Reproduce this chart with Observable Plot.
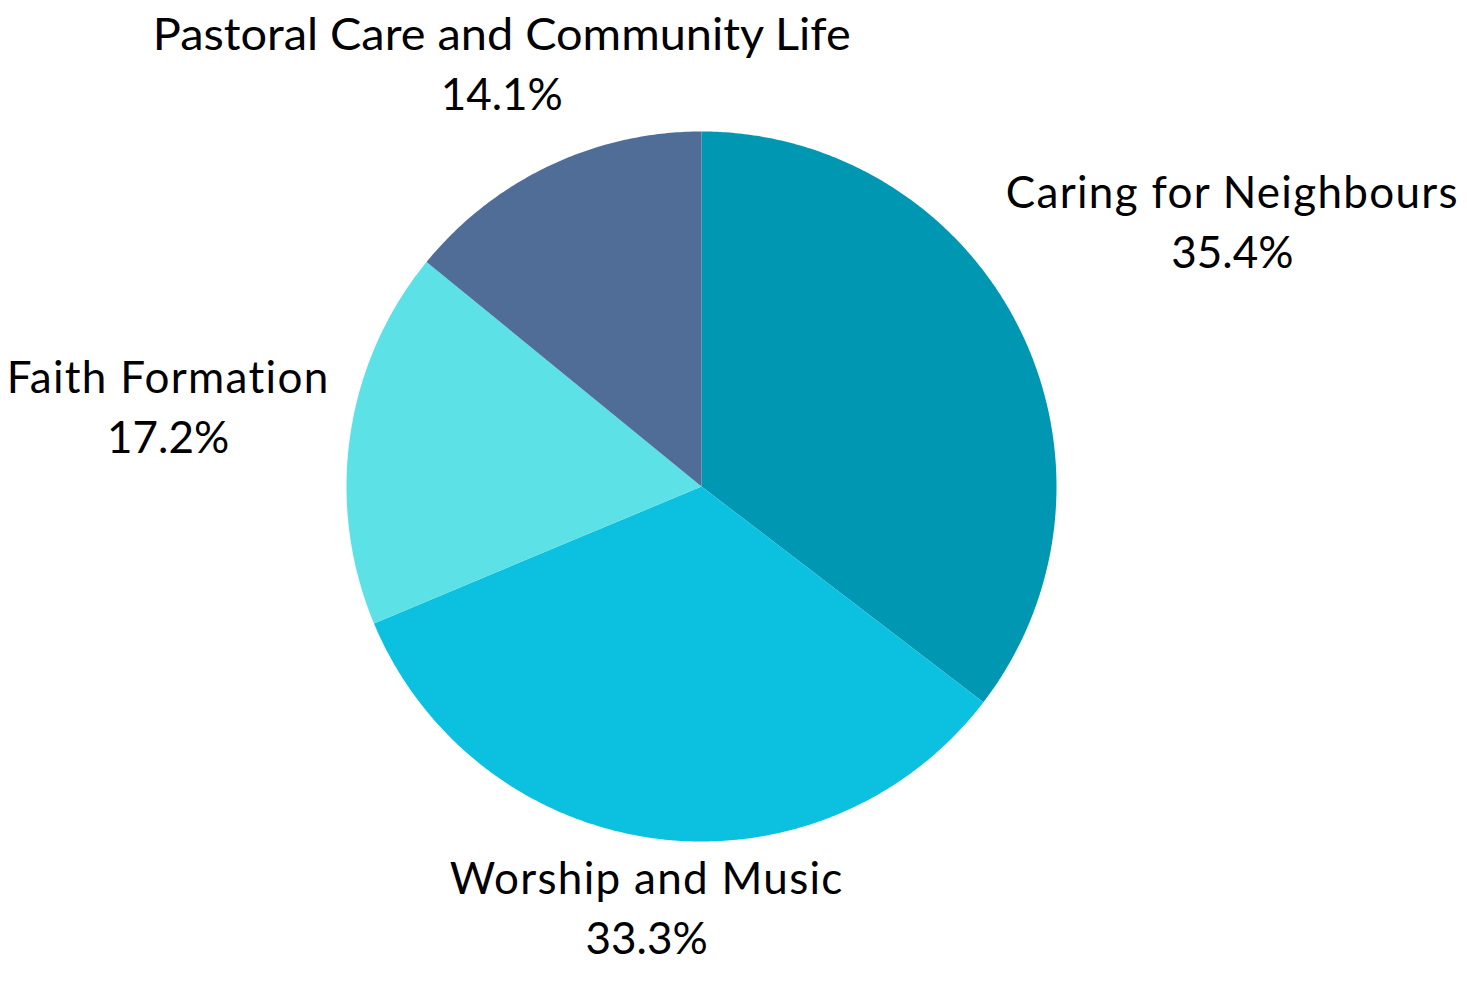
<!DOCTYPE html>
<html>
<head>
<meta charset="utf-8">
<script src="https://cdn.jsdelivr.net/npm/d3@7"></script>
<script src="https://cdn.jsdelivr.net/npm/@observablehq/plot@0.6"></script>
<style>
  html, body { margin: 0; padding: 0; background: #ffffff; }
  #chart svg { display: block; font-variant-ligatures: none; }
</style>
</head>
<body>
<div id="chart"></div>
<script>
// ---- data ----
const categories = ["Caring for Neighbours", "Worship and Music", "Faith Formation", "Pastoral Care and Community Life"];
const shares = [35.4, 33.3, 17.2, 14.1];
const percentLabels = ["35.4%", "33.3%", "17.2%", "14.1%"];

// ---- styles / layout ----
const colors = ["#0097B2", "#0CC0DF", "#5CE1E6", "#506D97"];
const W = 1467, H = 988;
const cx = 701, cy = 486, radius = 355;
const labelDistance = [592, 427, 539, 466];
const fontSize = 44;

const table = categories.map((c, i) => ({category: c, share: shares[i], pct: percentLabels[i], i}));
const arcs = d3.pie().sort(null).value(d => d.share).startAngle(0).endAngle(2 * Math.PI)(table);

const pt = (a, r) => [cx + r * Math.sin(a), cy - r * Math.cos(a)];

const polys = [];
for (const a of arcs) {
  const c = a.data.category;
  const [x0, y0] = pt(0, 0);
  polys.push({category: c, x: x0, y: y0});
  const n = Math.max(8, Math.ceil((a.endAngle - a.startAngle) / (Math.PI / 360)));
  for (let k = 0; k <= n; k++) {
    const ang = a.startAngle + (a.endAngle - a.startAngle) * k / n;
    const [x, y] = pt(ang, radius);
    polys.push({category: c, x, y});
  }
}

const labels = arcs.map(a => {
  const mid = (a.startAngle + a.endAngle) / 2;
  const [x, y] = pt(mid, labelDistance[a.data.i]);
  return {category: a.data.category, pct: a.data.pct, x, y};
});

const chart = Plot.plot({
  width: W,
  height: H,
  margin: 0,
  x: {domain: [0, W], range: [0, W], axis: null},
  y: {domain: [0, H], range: [0, H], axis: null},
  color: {domain: categories, range: colors},
  style: {fontFamily: "Lato, sans-serif", background: "#ffffff"},
  marks: [
    Plot.line(polys, {x: "x", y: "y", z: "category", fill: "category", stroke: "none", curve: "linear-closed"}),
    Plot.text(labels, {x: "x", y: "y", text: "category", dy: -30, fontSize, fill: "#000000"}),
    Plot.text(labels, {x: "x", y: "y", text: "pct", dy: 30, fontSize, fill: "#000000"})
  ]
});

// Label text fitting: the top label is horizontally condensed in the original,
// the other names are set slightly wider.
d3.select(chart).selectAll("text").each(function () {
  const t = this.textContent;
  if (t === "Pastoral Care and Community Life") {
    this.setAttribute("textLength", 698);
    this.setAttribute("lengthAdjust", "spacingAndGlyphs");
  } else if (categories.includes(t)) {
    this.style.letterSpacing = "1.3px";
  }
});

document.getElementById("chart").appendChild(chart);
</script>
</body>
</html>
